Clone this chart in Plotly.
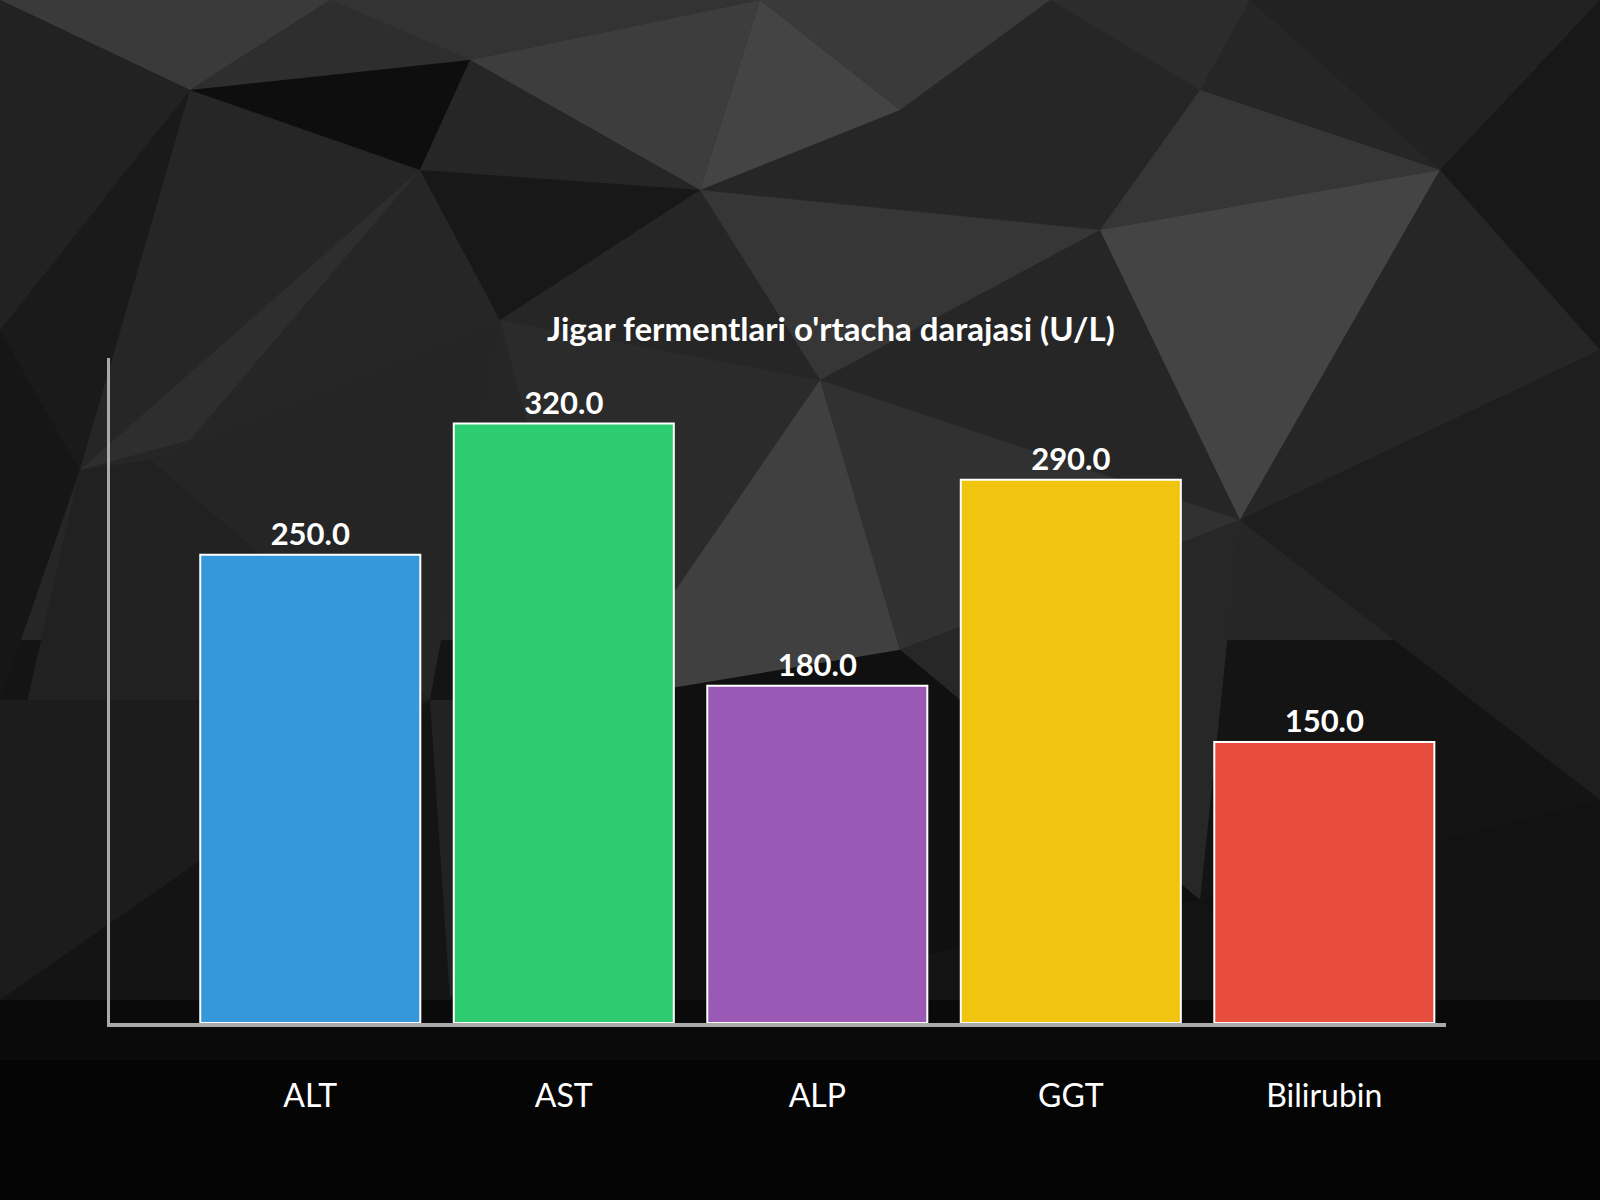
import plotly.graph_objects as go

categories = ["ALT", "AST", "ALP", "GGT", "Bilirubin"]
values = [250.0, 320.0, 180.0, 290.0, 150.0]
bar_colors = ["#3498db", "#2ecc71", "#9b59b6", "#f1c40f", "#e74c3c"]
title_text = "Jigar fermentlari o'rtacha darajasi (U/L)"

W, H = 1600, 1200
L, R, T, B = 110, 1446, 358, 1023

# decorative low-poly background (pixel coords of the page)
background_polys = [
    ("#262626", [(0, 0), (1600, 0), (1600, 640), (0, 640)]),
    ("#141414", [(0, 640), (1600, 640), (1600, 1040), (0, 1040)]),
    ("#0a0a0a", [(0, 1000), (1600, 1000), (1600, 1080), (0, 1080)]),
    ("#050505", [(0, 1060), (1600, 1060), (1600, 1200), (0, 1200)]),
    ("#3a3a3a", [(0, 0), (330, 0), (190, 90)]),
    ("#222222", [(0, 0), (190, 90), (0, 330)]),
    ("#2e2e2e", [(190, 90), (330, 0), (470, 60)]),
    ("#333333", [(470, 60), (330, 0), (760, 0)]),
    ("#3a3a3a", [(760, 0), (1050, 0), (900, 110)]),
    ("#3d3d3d", [(470, 60), (760, 0), (700, 190)]),
    ("#444444", [(700, 190), (900, 110), (760, 0)]),
    ("#2c2c2c", [(1050, 0), (1250, 0), (1200, 90)]),
    ("#222222", [(1250, 0), (1600, 0), (1440, 170)]),
    ("#262626", [(900, 110), (1200, 90), (1100, 230)]),
    ("#363636", [(1100, 230), (1200, 90), (1440, 170)]),
    ("#181818", [(1440, 170), (1600, 0), (1600, 350)]),
    ("#1a1a1a", [(0, 330), (190, 90), (80, 470)]),
    ("#0e0e0e", [(190, 90), (470, 60), (420, 170)]),
    ("#262626", [(420, 170), (470, 60), (700, 190)]),
    ("#2e2e2e", [(80, 470), (420, 170), (190, 440)]),
    ("#181818", [(420, 170), (700, 190), (500, 320)]),
    ("#363636", [(700, 190), (1100, 230), (820, 380)]),
    ("#444444", [(1100, 230), (1440, 170), (1240, 520)]),
    ("#262626", [(1240, 520), (1440, 170), (1600, 350)]),
    ("#2b2b2b", [(500, 320), (820, 380), (600, 700)]),
    ("#313131", [(820, 380), (1240, 520), (900, 650)]),
    ("#404040", [(600, 700), (820, 380), (900, 650)]),
    ("#252525", [(150, 460), (500, 320), (430, 700)]),
    ("#161616", [(0, 330), (80, 470), (0, 700)]),
    ("#212121", [(80, 470), (150, 460), (430, 700), (0, 820)]),
    ("#1c1c1c", [(0, 700), (430, 700), (0, 1000)]),
    ("#222222", [(430, 700), (600, 700), (450, 1000)]),
    ("#272727", [(900, 650), (1240, 520), (1200, 900)]),
    ("#1e1e1e", [(1240, 520), (1600, 350), (1600, 800)]),
    ("#121212", [(1200, 900), (1600, 800), (1600, 1000), (1300, 1000)]),
    ("#101010", [(600, 700), (900, 650), (1200, 900), (700, 1000), (450, 1000)]),
]


def to_paper(px, py):
    return (px - L) / (R - L), (B - py) / (B - T)


shapes = []
for fill, pts in background_polys:
    path = ""
    for i, (px, py) in enumerate(pts):
        x, y = to_paper(px, py)
        path += ("M" if i == 0 else "L") + f"{x:.4f},{y:.4f} "
    path += "Z"
    shapes.append(dict(type="path", xref="paper", yref="paper", path=path,
                       fillcolor=fill, line=dict(width=0), layer="below"))

fig = go.Figure(go.Bar(
    x=categories,
    y=values,
    marker=dict(color=bar_colors, line=dict(color="white", width=2)),
    texttemplate="<b>%{y:.1f}</b>",
    textposition="outside",
    textfont=dict(family="Lato", size=31, color="white"),
    cliponaxis=False,
    width=0.868,
))

fig.update_layout(
    width=W, height=H,
    margin=dict(l=L, r=W - R, t=T, b=H - B, pad=0),
    paper_bgcolor="#111111",
    plot_bgcolor="rgba(0,0,0,0)",
    shapes=shapes,
    showlegend=False,
    font=dict(family="Lato", color="white"),
    annotations=[dict(
        text="<b>" + title_text + "</b>",
        xref="paper", yref="paper",
        x=(831 - L) / (R - L), y=(B - 328) / (B - T),
        xanchor="center", yanchor="middle", showarrow=False,
        font=dict(family="Lato", size=33, color="white"),
    )],
    xaxis=dict(
        range=[-0.79, 4.48],
        showline=True, linecolor="#aaaaaa", linewidth=4,
        showgrid=False, zeroline=False, ticks="",
        tickfont=dict(family="Lato", size=32, color="white"),
        ticklabelstandoff=42,
    ),
    yaxis=dict(
        range=[0, 355],
        showline=True, linecolor="#aaaaaa", linewidth=3,
        showgrid=False, zeroline=False, showticklabels=False, ticks="",
    ),
)

fig.write_html("out.html", config={"displayModeBar": False},
               post_script="document.body.style.margin='0';")
